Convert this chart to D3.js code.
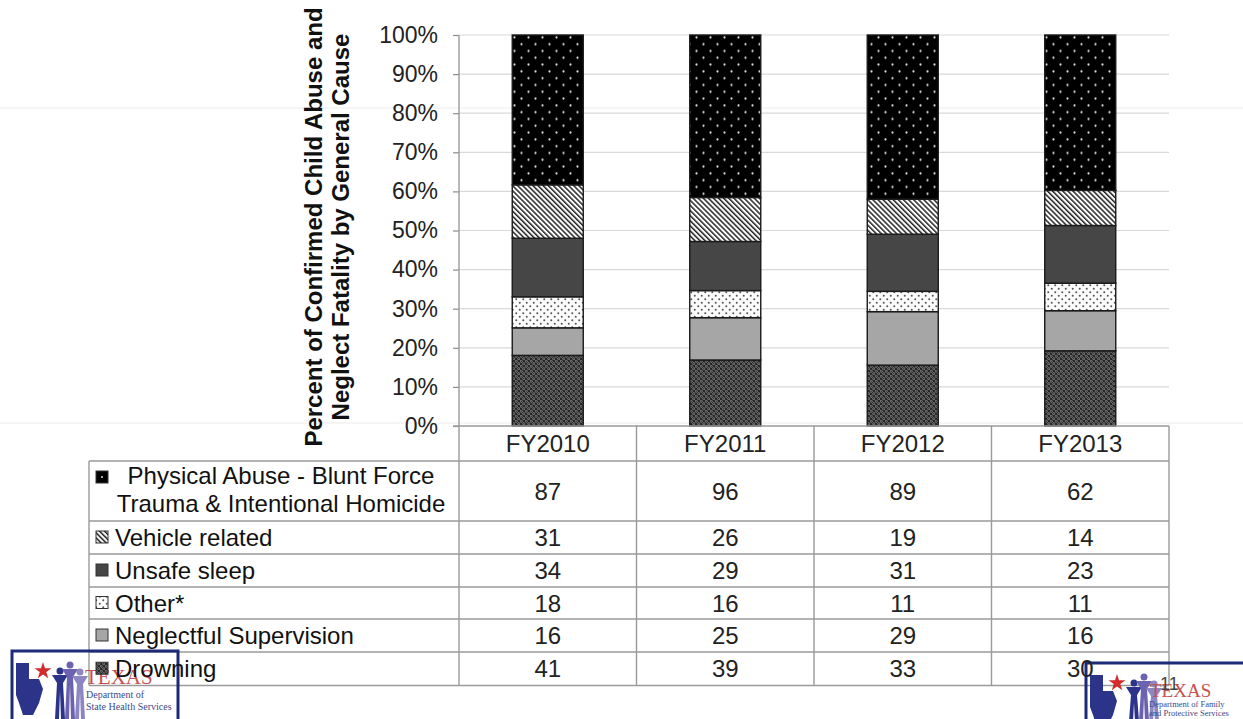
<!DOCTYPE html>
<html><head><meta charset="utf-8">
<script src="https://cdn.jsdelivr.net/npm/d3@7"></script>
<style>html,body{margin:0;padding:0;background:#fff;}svg{display:block;font-family:"Liberation Sans",Arial,sans-serif;}</style>
</head><body>
<svg id="c" width="1243" height="719"></svg>
<script>
// ---- data ----
const years = ["FY2010", "FY2011", "FY2012", "FY2013"];
const causes = ["Physical Abuse - Blunt Force Trauma & Intentional Homicide", "Vehicle related", "Unsafe sleep", "Other*", "Neglectful Supervision", "Drowning"];
const physicalAbuse = [87, 96, 89, 62];
const vehicleRelated = [31, 26, 19, 14];
const unsafeSleep = [34, 29, 31, 23];
const otherCause = [18, 16, 11, 11];
const neglectfulSupervision = [16, 25, 29, 16];
const drowning = [41, 39, 33, 30];
const yTicks = [0, 0.1, 0.2, 0.3, 0.4, 0.5, 0.6, 0.7, 0.8, 0.9, 1.0];
const yTitle = ["Percent of Confirmed Child Abuse and", "Neglect Fatality by General Cause"];

(function () {
const seriesValues = [physicalAbuse, vehicleRelated, unsafeSleep, otherCause, neglectfulSupervision, drowning];
const rows = years.map((yr, i) => {
  const o = {year: yr};
  causes.forEach((c, j) => o[c] = seriesValues[j][i]);
  return o;
});

const svg = d3.select("#c");
const defs = svg.append("defs");
const TS = 24; // table font size

// patterns
const patId = ["pPA", "pVeh", "pSleep", "pOther", "pNeg", "pDrown"];
{
  let p = defs.append("pattern").attr("id", "pPA").attr("patternUnits", "userSpaceOnUse").attr("width", 14).attr("height", 13.6);
  p.append("rect").attr("width", 14).attr("height", 13.6).attr("fill", "#000");
  p.append("circle").attr("cx", 3.5).attr("cy", 3.4).attr("r", 1.1).attr("fill", "#e0e0e0");
  p.append("circle").attr("cx", 10.5).attr("cy", 10.2).attr("r", 1.1).attr("fill", "#e0e0e0");

  p = defs.append("pattern").attr("id", "pVeh").attr("patternUnits", "userSpaceOnUse").attr("width", 3.6).attr("height", 10).attr("patternTransform", "rotate(-45)");
  p.append("rect").attr("width", 3.6).attr("height", 10).attr("fill", "#fff");
  p.append("rect").attr("width", 1.5).attr("height", 10).attr("fill", "#222");

  p = defs.append("pattern").attr("id", "pSleep").attr("patternUnits", "userSpaceOnUse").attr("width", 4).attr("height", 4);
  p.append("rect").attr("width", 4).attr("height", 4).attr("fill", "#464646");

  p = defs.append("pattern").attr("id", "pOther").attr("patternUnits", "userSpaceOnUse").attr("width", 7).attr("height", 7);
  p.append("rect").attr("width", 7).attr("height", 7).attr("fill", "#fbfbfb");
  p.append("circle").attr("cx", 1.75).attr("cy", 1.75).attr("r", 1).attr("fill", "#555");
  p.append("circle").attr("cx", 5.25).attr("cy", 5.25).attr("r", 1).attr("fill", "#555");

  p = defs.append("pattern").attr("id", "pNeg").attr("patternUnits", "userSpaceOnUse").attr("width", 4).attr("height", 4);
  p.append("rect").attr("width", 4).attr("height", 4).attr("fill", "#a6a6a6");

  p = defs.append("pattern").attr("id", "pDrown").attr("patternUnits", "userSpaceOnUse").attr("width", 5).attr("height", 5);
  p.append("rect").attr("width", 5).attr("height", 5).attr("fill", "#262626");
  p.append("circle").attr("cx", 1.25).attr("cy", 1.25).attr("r", 1.1).attr("fill", "none").attr("stroke", "#8f8f8f").attr("stroke-width", 0.8);
  p.append("circle").attr("cx", 3.75).attr("cy", 3.75).attr("r", 1.1).attr("fill", "none").attr("stroke", "#8f8f8f").attr("stroke-width", 0.8);
}
const fillOf = c => "url(#" + patId[causes.indexOf(c)] + ")";

// faint slide lines
svg.append("line").attr("x1", 0).attr("x2", 1243).attr("y1", 108).attr("y2", 108).attr("stroke", "#ececec").attr("stroke-width", 1);
svg.append("line").attr("x1", 0).attr("x2", 1243).attr("y1", 423).attr("y2", 423).attr("stroke", "#ececec").attr("stroke-width", 1);

// layout
const plotLeft = 459, plotRight = 1169, plotTop = 35, plotBase = 426;
const x = d3.scaleBand().domain(years).range([plotLeft, plotRight]).paddingInner(0).paddingOuter(0);
const y = d3.scaleLinear().domain([0, 1]).range([plotBase, plotTop]);

// gridlines
svg.append("g").selectAll("line").data(yTicks.filter(d => d > 0)).join("line")
  .attr("x1", plotLeft).attr("x2", plotRight).attr("y1", d => y(d)).attr("y2", d => y(d))
  .attr("stroke", "#d9d9d9").attr("stroke-width", 1.2);

// axis
const ax = svg.append("g").attr("transform", `translate(${plotLeft},0)`)
  .call(d3.axisLeft(y).tickValues(yTicks).tickFormat(d3.format(".0%")).tickSize(6).tickPadding(15));
ax.select(".domain").remove();
ax.selectAll(".tick line").attr("stroke", "#8c8c8c").attr("stroke-width", 1.2);
ax.selectAll(".tick text").attr("font-size", 23).attr("fill", "#222").attr("font-family", "Liberation Sans, Arial, sans-serif");

// y title
const tg = svg.append("text").attr("transform", "translate(322,227) rotate(-90)")
  .attr("text-anchor", "middle").attr("font-weight", "bold").attr("font-size", 24).attr("fill", "#111");
yTitle.forEach((t, i) => tg.append("tspan").attr("x", 0).attr("dy", i === 0 ? 0 : 26.5).text(t));

// stacked bars
const stackKeys = causes.slice().reverse();
const stacked = d3.stack().keys(stackKeys).offset(d3.stackOffsetExpand)(rows);
const bw = x.bandwidth() * 0.4;
svg.append("g").selectAll("g").data(stacked).join("g")
  .attr("fill", d => fillOf(d.key))
  .selectAll("rect").data(d => d).join("rect")
  .attr("x", d => x(d.data.year) + (x.bandwidth() - bw) / 2)
  .attr("width", bw)
  .attr("y", d => y(d[1]))
  .attr("height", d => y(d[0]) - y(d[1]))
  .attr("stroke", "#1a1a1a").attr("stroke-width", 1.4);

// table
const tableLeft = 89;
const headerH = 35;
const rowH = [60, 33, 33, 32, 33, 33.5];
const rowTop = [];
let acc = plotBase + headerH;
rowH.forEach(h => { rowTop.push(acc); acc += h; });
const tableBottom = acc;
const lc = "#9a9a9a";
const tl = svg.append("g").attr("stroke", lc).attr("stroke-width", 1.4);
tl.append("line").attr("x1", plotLeft).attr("x2", plotLeft).attr("y1", plotTop).attr("y2", tableBottom);
tl.append("line").attr("x1", plotLeft - 6).attr("x2", plotRight).attr("y1", plotBase).attr("y2", plotBase);
years.forEach(yr => {
  const xr = x(yr) + x.bandwidth();
  tl.append("line").attr("x1", xr).attr("x2", xr).attr("y1", plotBase).attr("y2", tableBottom);
});
tl.append("line").attr("x1", tableLeft).attr("x2", tableLeft).attr("y1", rowTop[0]).attr("y2", tableBottom);
rowTop.concat([tableBottom]).forEach(yy => {
  tl.append("line").attr("x1", tableLeft).attr("x2", plotRight).attr("y1", yy).attr("y2", yy);
});

// logos (drawn under texts)
function logo(g, x0, y0, w, h, lines) {
  g.append("rect").attr("x", x0).attr("y", y0).attr("width", w).attr("height", h)
    .attr("fill", "none").attr("stroke", "#1d2a78").attr("stroke-width", 3);
  g.append("path").attr("d", `M${x0+4},${y0+12} h13 v16 h10 l4,10 l-4,14 l-6,12 h-10 l-4,-12 l-3,-8 z`)
    .attr("fill", "#2b3488");
  g.append("path").attr("d", d3.symbol().type(d3.symbolStar).size(90)()).attr("transform", `translate(${x0+31},${y0+20})`).attr("fill", "#d32b2b");
  [[48, 26, "#2b3488"], [58, 20, "#6b63b0"], [68, 27, "#8c86c2"]].forEach(([dx, dy, col]) => {
    g.append("circle").attr("cx", x0 + dx).attr("cy", y0 + dy - 6).attr("r", 3.5).attr("fill", col);
    g.append("path").attr("d", `M${x0+dx-8},${y0+dy-2} L${x0+dx+8},${y0+dy-2} L${x0+dx+3},${y0+dy+6} L${x0+dx+5},${y0+h-4} L${x0+dx+1},${y0+h-4} L${x0+dx},${y0+dy+14} L${x0+dx-1},${y0+h-4} L${x0+dx-5},${y0+h-4} L${x0+dx-3},${y0+dy+6} Z`).attr("fill", col);
  });
  g.append("text").attr("x", lines.tx).attr("y", lines.ty).attr("font-family", "Liberation Serif, serif").attr("font-size", lines.ts).attr("fill", "#c75050").text("TEXAS");
  lines.sub.forEach((s, i) => g.append("text").attr("x", lines.sx).attr("y", lines.sy + i * lines.sd)
    .attr("font-family", "Liberation Serif, serif").attr("font-size", lines.ss).attr("fill", "#3b4a8a").text(s));
}
const lg = svg.append("g");
logo(lg, 12, 651, 166, 72, {tx: 85, ty: 684, ts: 21, sub: ["Department of", "State Health Services"], sx: 86, sy: 698, sd: 12, ss: 10});
const rg = svg.append("g");
logo(rg, 1086, 663, 162, 62, {tx: 1150, ty: 697, ts: 19, sub: ["Department of Family", "and Protective Services"], sx: 1149, sy: 707, sd: 9, ss: 8.5});

// header text
svg.append("g").selectAll("text").data(years).join("text")
  .attr("x", d => x(d) + x.bandwidth() / 2).attr("y", plotBase + headerH / 2 + 8.5)
  .attr("text-anchor", "middle").attr("font-size", TS).attr("fill", "#222").text(d => d);

// row labels + keys + values
function wrap(label, maxChars) {
  const words = label.split(" "); const out = []; let cur = "";
  words.forEach(w => { if ((cur + " " + w).trim().length > maxChars && cur) { out.push(cur); cur = w; } else cur = (cur + " " + w).trim(); });
  out.push(cur); return out;
}
causes.forEach((c, j) => {
  const t = rowTop[j], h = rowH[j], cy = t + h / 2;
  const lines = wrap(c, 29);
  if (lines.length === 1) {
    svg.append("rect").attr("x", 96).attr("y", cy - 6.5).attr("width", 12).attr("height", 12)
      .attr("fill", fillOf(c)).attr("stroke", "#333").attr("stroke-width", 1);
    svg.append("text").attr("x", 115).attr("y", cy + 8.5).attr("font-size", TS).attr("fill", "#111").text(lines[0]);
  } else {
    svg.append("rect").attr("x", 96).attr("y", t + 10).attr("width", 12).attr("height", 12)
      .attr("fill", "#000").attr("stroke", "#333").attr("stroke-width", 1);
    svg.append("circle").attr("cx", 102).attr("cy", t + 16).attr("r", 1).attr("fill", "#ddd");
    const tx = svg.append("text").attr("font-size", TS).attr("fill", "#111").attr("text-anchor", "middle");
    tx.append("tspan").attr("x", 281).attr("y", t + 23).text(lines[0]);
    tx.append("tspan").attr("x", 281).attr("y", t + 51).text(lines[1]);
  }
  years.forEach((yr, i) => {
    svg.append("text").attr("x", x(yr) + x.bandwidth() / 2).attr("y", cy + 8.5)
      .attr("text-anchor", "middle").attr("font-size", TS).attr("fill", "#222").text(seriesValues[j][i]);
  });
});
svg.append("text").attr("x", 1160).attr("y", 690).attr("font-size", 18).attr("fill", "#444").text("11");
})();
</script>
</body></html>
